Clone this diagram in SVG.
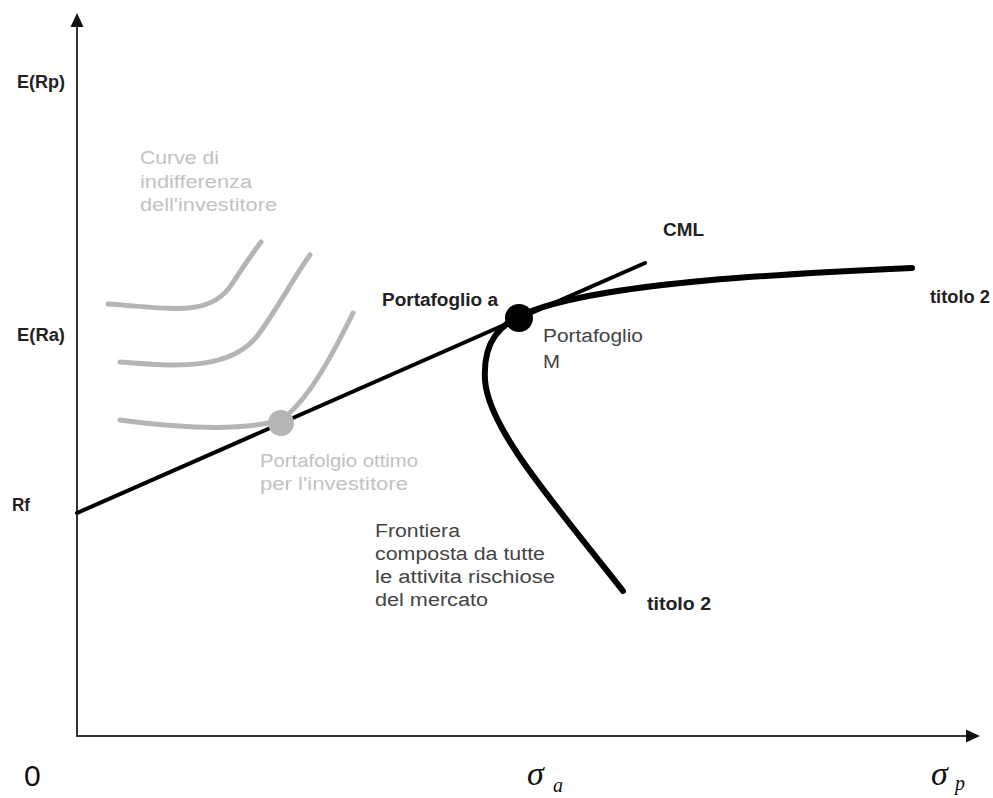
<svg xmlns="http://www.w3.org/2000/svg" width="993" height="798" viewBox="0 0 993 798">
<style>
.ax{stroke:#333;stroke-width:2;fill:none}
.ind{stroke:#b5b5b5;stroke-width:5;fill:none;stroke-linecap:round}
.cml{stroke:#000;stroke-width:4;fill:none;stroke-linecap:round}
.fr{stroke:#000;stroke-width:6;fill:none;stroke-linecap:round}
text{font-family:"Liberation Sans",Arial,sans-serif;font-size:18px}
.b{font-weight:bold;fill:#222}
.n{fill:#444}
.g{fill:#c2c2c2}
.sig{font-family:"Liberation Serif","Times New Roman",serif;font-style:italic;fill:#111}
</style>
<rect width="993" height="798" fill="#fff"/>
<g id="axes">
<line class="ax" x1="77" y1="737" x2="77" y2="26"/>
<polygon points="77,13 70.5,27 83.5,27" fill="#111"/>
<line class="ax" x1="76" y1="736" x2="966" y2="736"/>
<polygon points="980,736 966,729.5 966,742.5" fill="#111"/>
</g>
<g id="connectors">
<path id="ic1" class="ind" d="M108 304 C170 308,210 318,232 284 C245 264,255 250,261 242"/>
<path id="ic2" class="ind" d="M120 362 C170 366,230 372,258 335 C280 305,295 275,310 255"/>
<path id="ic3" class="ind" d="M120 420 C180 428,240 432,280 420 C305 405,330 360,353 313"/>
<line id="cml" class="cml" x1="77" y1="513" x2="645" y2="263"/>
<path id="frontier" class="fr" d="M912 268 C780 274,620 282,540 308 C495 322,483 345,485 380 C488 430,560 510,623 591"/>
</g>
<g id="node-optimal"><circle cx="281" cy="423" r="13" fill="#b5b5b5"/></g>
<g id="node-M"><circle cx="519" cy="318" r="14" fill="#000"/></g>
<g id="labels">
<text class="b" x="17" y="88" textLength="48" lengthAdjust="spacingAndGlyphs">E(Rp)</text>
<text class="b" x="17" y="341" textLength="48" lengthAdjust="spacingAndGlyphs">E(Ra)</text>
<text class="b" x="12" y="511" textLength="18" lengthAdjust="spacingAndGlyphs">Rf</text>
<text class="g" x="140" y="164" textLength="79" lengthAdjust="spacingAndGlyphs">Curve di</text>
<text class="g" x="140" y="188" textLength="112" lengthAdjust="spacingAndGlyphs">indifferenza</text>
<text class="g" x="140" y="211" textLength="137" lengthAdjust="spacingAndGlyphs">dell'investitore</text>
<text class="b" x="663" y="236" textLength="41" lengthAdjust="spacingAndGlyphs">CML</text>
<text class="b" x="930" y="303" textLength="60" lengthAdjust="spacingAndGlyphs">titolo 2</text>
<text class="b" x="382" y="306" textLength="116" lengthAdjust="spacingAndGlyphs">Portafoglio a</text>
<text class="n" x="543" y="342" textLength="100" lengthAdjust="spacingAndGlyphs">Portafoglio</text>
<text class="n" x="543" y="368" textLength="17" lengthAdjust="spacingAndGlyphs">M</text>
<text class="g" x="260" y="467" textLength="158" lengthAdjust="spacingAndGlyphs">Portafolgio ottimo</text>
<text class="g" x="260" y="490" textLength="148" lengthAdjust="spacingAndGlyphs">per l'investitore</text>
<text class="n" x="375" y="537" textLength="85" lengthAdjust="spacingAndGlyphs">Frontiera</text>
<text class="n" x="375" y="560" textLength="170" lengthAdjust="spacingAndGlyphs">composta da tutte</text>
<text class="n" x="375" y="583" textLength="180" lengthAdjust="spacingAndGlyphs">le attivita rischiose</text>
<text class="n" x="375" y="606" textLength="113" lengthAdjust="spacingAndGlyphs">del mercato</text>
<text class="b" x="647" y="610" textLength="64" lengthAdjust="spacingAndGlyphs">titolo 2</text>
<text x="24" y="786" style="font-size:30px;fill:#111">0</text>
<text class="sig" x="527" y="785" style="font-size:34px">σ</text>
<text class="sig" x="553" y="792" style="font-size:20px">a</text>
<text class="sig" x="931" y="785" style="font-size:34px">σ</text>
<text class="sig" x="955" y="790" style="font-size:20px">p</text>
</g>
</svg>
